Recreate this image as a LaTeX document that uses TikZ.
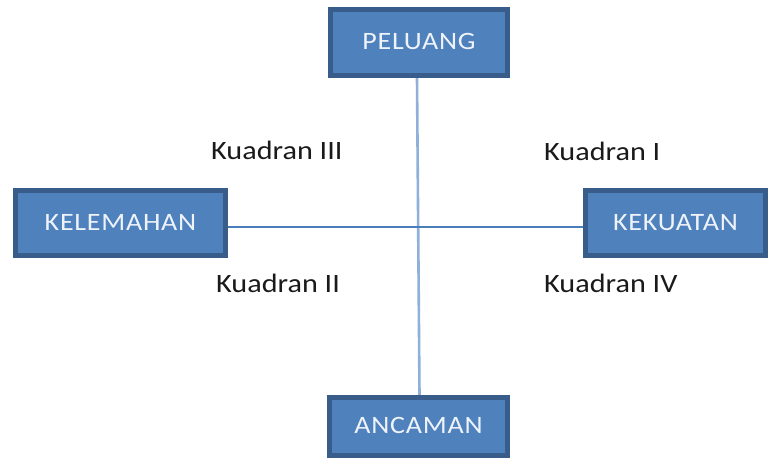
\documentclass[tikz,border=0pt]{standalone}
\usepackage{fontspec}
\setmainfont{Carlito}
\newfontfamily\boxfont[FakeStretch=1.12,LetterSpace=3]{Carlito}
\newfontfamily\labfont[FakeStretch=1.14]{Carlito}
\definecolor{boxfill}{HTML}{4F81BD}
\definecolor{boxline}{HTML}{385D8A}
\definecolor{hline}{HTML}{4A7EBB}
\definecolor{vline}{HTML}{8EB0DA}
\definecolor{boxtext}{HTML}{EEF3FA}
\definecolor{labtext}{HTML}{1A1A1A}
\tikzset{
  swotbox/.style={draw=boxline, fill=boxfill, line width=5pt, rectangle, inner sep=0pt,
    text=boxtext, font=\boxfont\fontsize{25}{30}\selectfont},
  quad/.style={anchor=base west, inner sep=0pt, text=labtext, font=\labfont\fontsize{26.5}{31}\selectfont}
}
\newcommand{\boxtxt}[1]{\raisebox{2pt}{#1}}
\begin{document}
\begin{tikzpicture}[x=1pt,y=-1pt]
\useasboundingbox (0,0) rectangle (770,459);
\path[fill=white] (0,0) rectangle (770,459);
% node positions (invisible, for anchors)
\node[swotbox, minimum width=177pt, minimum height=66pt, draw=none, fill=none] (pel0) at (419,42.5) {};
\node[swotbox, minimum width=178pt, minimum height=58pt, draw=none, fill=none] (anc0) at (418.5,426.5) {};
\node[swotbox, minimum width=210pt, minimum height=65pt, draw=none, fill=none] (kel0) at (120.5,223) {};
\node[swotbox, minimum width=180pt, minimum height=65pt, draw=none, fill=none] (kek0) at (675.5,223) {};
% connectors
\draw[vline, line width=2.6pt] ([xshift=-2pt]pel0.south) -- ([xshift=1pt]anc0.north);
\draw[hline, line width=1.8pt] ([yshift=-4pt]kel0.east) -- ([yshift=-4pt]kek0.west);
% boxes
\node[swotbox, minimum width=177pt, minimum height=66pt] (pel) at (419,42.5) {\boxtxt{PELUANG}};
\node[swotbox, minimum width=178pt, minimum height=58pt] (anc) at (418.5,426.5) {\boxtxt{ANCAMAN}};
\node[swotbox, minimum width=210pt, minimum height=65pt] (kel) at (120.5,223) {\boxtxt{KELEMAHAN}};
\node[swotbox, minimum width=180pt, minimum height=65pt] (kek) at (675.5,223) {\boxtxt{KEKUATAN}};
% labels
\node[quad] (q3) at (211,159) {Kuadran III};
\node[quad] (q1) at (544,160) {Kuadran I};
\node[quad] (q2) at (216,292) {Kuadran II};
\node[quad] (q4) at (544,292) {Kuadran IV};
\end{tikzpicture}
\end{document}
